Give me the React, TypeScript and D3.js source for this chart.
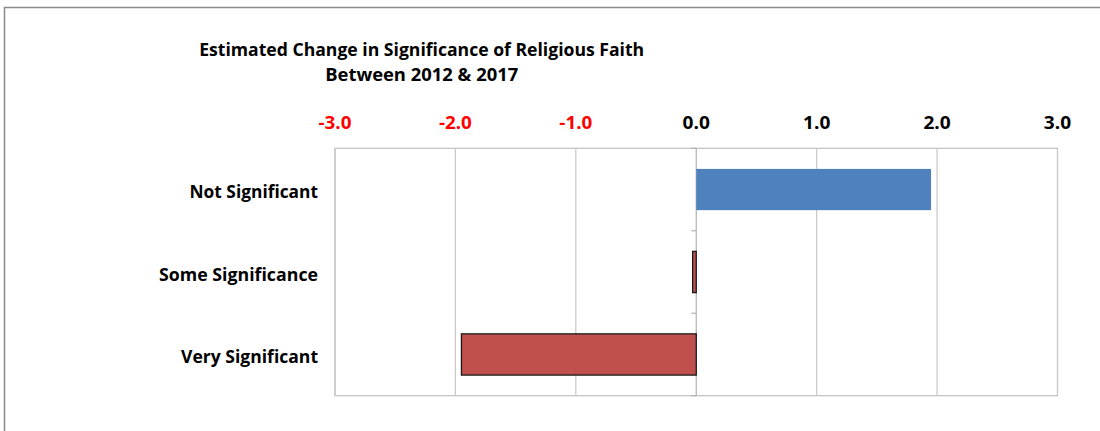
import React from "react";
import * as d3 from "d3";

const titleLines = ["Estimated Change in Significance of Religious Faith", "Between 2012 & 2017"];
const categories = ["Not Significant", "Some Significance", "Very Significant"];
const values = [1.95, -0.03, -1.95];
const tickValues = [-3, -2, -1, 0, 1, 2, 3];
const tickLabels = ["-3.0", "-2.0", "-1.0", "0.0", "1.0", "2.0", "3.0"];

const W = 1100;
const H = 431;
const plot = { left: 335, right: 1057.5, top: 148.3, bottom: 395.7 };
const FONT = "'Open Sans', Lato, sans-serif";

export default function App() {
  const x = d3.scaleLinear().domain([-3, 3]).range([plot.left, plot.right]);
  const y = d3
    .scaleBand<string>()
    .domain(categories)
    .range([plot.top, plot.bottom])
    .paddingInner(0.5)
    .paddingOuter(0.25);
  const step = y.step();
  const boundaries = d3.range(categories.length + 1).map((i) => plot.top + i * step);

  const titleWidths = [445, 193];
  const labelWidths = [128.5, 159, 137];
  const fs = 18.4;

  return (
    <svg
      width={W}
      height={H}
      style={{ position: "absolute", left: 0, top: 0, background: "#fff", fontVariantLigatures: "none" }}
      fontFamily={FONT}
    >
      <rect x={0} y={0} width={W} height={H} fill="#fff" />
      {/* outer frame */}
      <path d={`M4.5,${H + 2} L4.5,7.5 L${W + 2},7.5`} fill="none" stroke="#8a8a8a" strokeWidth={1.5} />

      {/* title */}
      {titleLines.map((t, i) => (
        <text
          key={t}
          x={421.7}
          y={55.7 + i * 25.3}
          textAnchor="middle"
          fontSize={fs}
          fontWeight={700}
          fill="#000"
          textLength={titleWidths[i]}
          lengthAdjust="spacingAndGlyphs"
        >
          {t}
        </text>
      ))}

      {/* plot area border */}
      <rect
        x={plot.left}
        y={plot.top}
        width={plot.right - plot.left}
        height={plot.bottom - plot.top}
        fill="#fff"
        stroke="#bfbfbf"
        strokeWidth={1.2}
      />

      {/* gridlines */}
      {tickValues.map((v) => (
        <line
          key={"g" + v}
          x1={x(v)}
          x2={x(v)}
          y1={plot.top}
          y2={plot.bottom}
          stroke={v === 0 ? "#b0b0b0" : "#c8c8c8"}
          strokeWidth={1.2}
        />
      ))}

      {/* tick labels */}
      {tickValues.map((v, i) => (
        <text
          key={"t" + v}
          x={x(v)}
          y={129.3}
          textAnchor="middle"
          fontSize={fs}
          fontWeight={700}
          fill={v < 0 ? "#ff0000" : "#000"}
          textLength={v < 0 ? 33 : 27.3}
          lengthAdjust="spacingAndGlyphs"
        >
          {tickLabels[i]}
        </text>
      ))}

      {/* category tick marks on zero axis */}
      {boundaries.map((b, i) => (
        <line key={"ct" + i} x1={x(0) - 5} x2={x(0)} y1={b} y2={b} stroke="#b0b0b0" strokeWidth={1.2} />
      ))}

      {/* bars */}
      {categories.map((c, i) => {
        const v = values[i];
        const x0 = x(Math.min(0, v));
        const x1 = x(Math.max(0, v));
        const neg = v < 0;
        return (
          <rect
            key={"b" + c}
            x={x0}
            y={y(c)!}
            width={x1 - x0}
            height={y.bandwidth()}
            fill={neg ? "#c0504d" : "#4f81bd"}
            stroke={neg ? "#1a1a1a" : "none"}
            strokeWidth={neg ? 1.3 : 0}
          />
        );
      })}

      {/* category labels */}
      {categories.map((c, i) => (
        <text
          key={"l" + c}
          x={318}
          y={y(c)! + y.bandwidth() / 2 + 8.8}
          textAnchor="end"
          fontSize={fs}
          fontWeight={700}
          fill="#000"
          textLength={labelWidths[i]}
          lengthAdjust="spacingAndGlyphs"
        >
          {c}
        </text>
      ))}
    </svg>
  );
}
